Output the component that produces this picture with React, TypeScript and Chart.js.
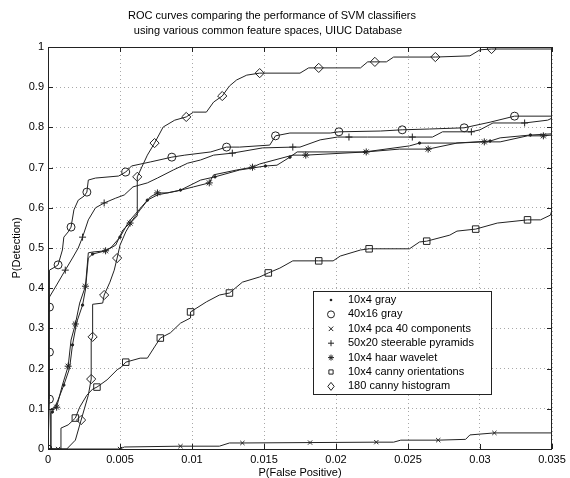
import React, { useEffect, useRef } from 'react';
import { Chart, registerables } from 'chart.js';

Chart.register(...registerables);

const FONT = '"Liberation Sans", Arial, Helvetica, sans-serif';

const titleLines = [
  'ROC curves comparing the performance of SVM classifiers',
  'using various common feature spaces, UIUC Database',
];
const xAxisTitle = 'P(False Positive)';
const yAxisTitle = 'P(Detection)';

const xTicks = [0, 0.005, 0.01, 0.015, 0.02, 0.025, 0.03, 0.035];
const xTickLabels = ['0', '0.005', '0.01', '0.015', '0.02', '0.025', '0.03', '0.035'];
const yTicks = [0, 0.1, 0.2, 0.3, 0.4, 0.5, 0.6, 0.7, 0.8, 0.9, 1];
const yTickLabels = ['0', '0.1', '0.2', '0.3', '0.4', '0.5', '0.6', '0.7', '0.8', '0.9', '1'];

const seriesNames = [
  '10x4 gray',
  '40x16 gray',
  '10x4 pca 40 components',
  '50x20 steerable pyramids',
  '10x4 haar wavelet',
  '10x4 canny orientations',
  '180 canny histogram',
];

type P = [number, number];

// 10x4 gray (dots)
const gray10x4: P[] = [
  [0, 0], [0.0002, 0], [0.0002, 0.09], [0.0003, 0.092], [0.0007, 0.122], [0.0011, 0.159],
  [0.0015, 0.201], [0.0017, 0.259], [0.002, 0.316], [0.0024, 0.358], [0.0026, 0.396],
  [0.0028, 0.475], [0.0031, 0.485], [0.004, 0.493], [0.0044, 0.502], [0.005, 0.527],
  [0.0056, 0.565], [0.0062, 0.59], [0.0069, 0.619], [0.0076, 0.632], [0.0092, 0.644],
  [0.0106, 0.669], [0.0116, 0.677], [0.0133, 0.694], [0.0151, 0.704], [0.0159, 0.706],
  [0.0168, 0.726], [0.0173, 0.739], [0.022, 0.739], [0.0251, 0.754], [0.0258, 0.761],
  [0.0283, 0.761], [0.0307, 0.766], [0.0314, 0.774], [0.0335, 0.781], [0.035, 0.784],
];
const gray10x4Marks = [3, 5, 7, 9, 12, 15, 18, 20, 22, 24, 26, 28, 30, 32, 34];

// 40x16 gray (circles)
const gray40x16: P[] = [
  [0, 0], [0.0001, 0.124], [0.0001, 0.241], [0.0001, 0.353], [0.0001, 0.445], [0.0005, 0.453],
  [0.0007, 0.458], [0.001, 0.495], [0.0011, 0.527], [0.0014, 0.54], [0.0016, 0.552],
  [0.0018, 0.595], [0.0021, 0.619], [0.0025, 0.629], [0.0027, 0.639], [0.0028, 0.669],
  [0.0033, 0.674], [0.0049, 0.679], [0.0054, 0.689], [0.0058, 0.704], [0.0071, 0.714],
  [0.0086, 0.726], [0.0095, 0.731], [0.0113, 0.739], [0.0124, 0.751], [0.0133, 0.751],
  [0.0154, 0.756], [0.0158, 0.779], [0.0168, 0.786], [0.0196, 0.786], [0.0202, 0.789],
  [0.0231, 0.791], [0.0246, 0.794], [0.0265, 0.796], [0.0289, 0.799], [0.0307, 0.813],
  [0.0324, 0.828], [0.035, 0.828],
];
const gray40x16Marks = [0, 1, 2, 3, 6, 10, 14, 18, 21, 24, 27, 30, 32, 34, 36];

// 10x4 pca 40 components (x)
const pca: P[] = [
  [0, 0], [0.0007, 0], [0.005, 0], [0.0053, 0.005], [0.0092, 0.007], [0.0119, 0.007],
  [0.0126, 0.015], [0.0135, 0.015], [0.0182, 0.016], [0.0228, 0.017], [0.024, 0.017],
  [0.0245, 0.022], [0.0271, 0.022], [0.029, 0.024], [0.0293, 0.035], [0.031, 0.04], [0.035, 0.04],
];
const pcaMarks = [1, 2, 4, 7, 8, 9, 12, 15];

// 50x20 steerable pyramids (+)
const steerable: P[] = [
  [0, 0], [0, 0.31], [0.0001, 0.378], [0.0006, 0.408], [0.0012, 0.445], [0.0017, 0.475],
  [0.0021, 0.5], [0.0024, 0.527], [0.0028, 0.57], [0.0033, 0.6], [0.0039, 0.612],
  [0.0047, 0.624], [0.0053, 0.632], [0.0059, 0.652], [0.0069, 0.662], [0.0076, 0.674],
  [0.0087, 0.694], [0.0097, 0.711], [0.0106, 0.719], [0.0115, 0.731], [0.0128, 0.736],
  [0.0149, 0.749], [0.017, 0.751], [0.0175, 0.751], [0.0189, 0.769], [0.0201, 0.776],
  [0.0209, 0.776], [0.0222, 0.776], [0.0253, 0.776], [0.0267, 0.776], [0.0274, 0.789],
  [0.0294, 0.789], [0.03, 0.794], [0.0309, 0.811], [0.0331, 0.811], [0.0347, 0.818], [0.035, 0.823],
];
const steerableMarks = [4, 7, 10, 20, 22, 26, 28, 31, 34];

// 10x4 haar wavelet (*)
const haar: P[] = [
  [0, 0], [0.0002, 0], [0.0002, 0.1], [0.0006, 0.104], [0.001, 0.159], [0.0014, 0.206],
  [0.0016, 0.271], [0.0019, 0.311], [0.0022, 0.363], [0.0026, 0.405], [0.0028, 0.488],
  [0.0031, 0.49], [0.004, 0.493], [0.0047, 0.507], [0.0052, 0.545], [0.0057, 0.562],
  [0.0064, 0.595], [0.0071, 0.627], [0.0076, 0.637], [0.0083, 0.637], [0.009, 0.642],
  [0.0101, 0.652], [0.0112, 0.662], [0.0115, 0.682], [0.0131, 0.694], [0.0142, 0.701],
  [0.0147, 0.709], [0.017, 0.731], [0.0179, 0.731], [0.0221, 0.739], [0.0244, 0.746],
  [0.0264, 0.746], [0.0284, 0.761], [0.0303, 0.764], [0.0314, 0.764], [0.0333, 0.779],
  [0.0344, 0.779], [0.035, 0.781],
];
const haarMarks = [3, 5, 7, 9, 12, 15, 18, 22, 25, 28, 29, 31, 33, 36];

// 10x4 canny orientations (squares)
const cannyOrient: P[] = [
  [0, 0], [0.0009, 0], [0.0009, 0.052], [0.0014, 0.06], [0.0017, 0.07], [0.0019, 0.077],
  [0.0022, 0.104], [0.0027, 0.134], [0.0031, 0.149], [0.0034, 0.154], [0.0041, 0.172],
  [0.0048, 0.197], [0.0051, 0.204], [0.0054, 0.216], [0.0064, 0.226], [0.0069, 0.226],
  [0.0074, 0.254], [0.0078, 0.276], [0.0085, 0.289], [0.0092, 0.313], [0.0099, 0.326],
  [0.0099, 0.341], [0.011, 0.366], [0.0119, 0.383], [0.0126, 0.388], [0.0135, 0.415],
  [0.0147, 0.428], [0.0153, 0.438], [0.0161, 0.45], [0.017, 0.468], [0.0188, 0.468],
  [0.0198, 0.468], [0.0203, 0.48], [0.0217, 0.495], [0.0223, 0.498], [0.0251, 0.498],
  [0.0258, 0.515], [0.0263, 0.517], [0.0279, 0.532], [0.0284, 0.542], [0.0297, 0.547],
  [0.0312, 0.562], [0.0333, 0.57], [0.0342, 0.57], [0.0349, 0.582], [0.035, 0.595],
];
const cannyOrientMarks = [5, 9, 13, 17, 21, 24, 27, 30, 34, 37, 40, 42];

// 180 canny histogram (diamonds)
const cannyHist: P[] = [
  [0, 0], [0.0013, 0], [0.0019, 0.022], [0.0023, 0.072], [0.0028, 0.134], [0.003, 0.174],
  [0.003, 0.27], [0.0031, 0.279], [0.0031, 0.36], [0.0038, 0.363], [0.0039, 0.383],
  [0.0043, 0.415], [0.0046, 0.445], [0.0048, 0.475], [0.005, 0.507], [0.0054, 0.54],
  [0.0058, 0.565], [0.0062, 0.58], [0.0062, 0.677], [0.0069, 0.731], [0.0074, 0.761],
  [0.008, 0.801], [0.0088, 0.818], [0.0096, 0.826], [0.0101, 0.838], [0.011, 0.838],
  [0.0115, 0.863], [0.0121, 0.878], [0.0126, 0.903], [0.0131, 0.918], [0.0138, 0.93],
  [0.0147, 0.935], [0.0175, 0.935], [0.0181, 0.948], [0.0188, 0.948], [0.0217, 0.948],
  [0.0222, 0.963], [0.0227, 0.963], [0.0235, 0.963], [0.024, 0.975], [0.0269, 0.975],
  [0.0293, 0.978], [0.03, 0.993], [0.0308, 0.995], [0.035, 0.995],
];
const cannyHistMarks = [3, 5, 7, 10, 13, 18, 20, 23, 27, 31, 34, 37, 40, 43];

const seriesData: P[][] = [gray10x4, gray40x16, pca, steerable, haar, cannyOrient, cannyHist];
const seriesMarks: number[][] = [gray10x4Marks, gray40x16Marks, pcaMarks, steerableMarks, haarMarks, cannyOrientMarks, cannyHistMarks];
const seriesStyles = ['dot', 'circle', 'crossRot', 'cross', 'star', 'rect', 'rectRot'];
const styleRadius: Record<string, number> = {
  dot: 1.2, circle: 4, crossRot: 3, cross: 3.5, star: 3.5, rect: 4.6, rectRot: 4.6,
};

const INK = '#222';
const TEXT = '#000';

function drawMark(ctx: CanvasRenderingContext2D, style: string, x: number, y: number, r: number) {
  ctx.beginPath();
  switch (style) {
    case 'dot':
      ctx.arc(x, y, 1.3, 0, Math.PI * 2);
      ctx.fillStyle = INK;
      ctx.fill();
      return;
    case 'circle':
      ctx.arc(x, y, r, 0, Math.PI * 2);
      break;
    case 'crossRot': {
      const d = r * 0.75;
      ctx.moveTo(x - d, y - d); ctx.lineTo(x + d, y + d);
      ctx.moveTo(x - d, y + d); ctx.lineTo(x + d, y - d);
      break;
    }
    case 'cross':
      ctx.moveTo(x - r, y); ctx.lineTo(x + r, y);
      ctx.moveTo(x, y - r); ctx.lineTo(x, y + r);
      break;
    case 'star': {
      const d = r * 0.7;
      ctx.moveTo(x - r, y); ctx.lineTo(x + r, y);
      ctx.moveTo(x, y - r); ctx.lineTo(x, y + r);
      ctx.moveTo(x - d, y - d); ctx.lineTo(x + d, y + d);
      ctx.moveTo(x - d, y + d); ctx.lineTo(x + d, y - d);
      break;
    }
    case 'rect': {
      const s = r * Math.SQRT1_2;
      ctx.rect(x - s, y - s, 2 * s, 2 * s);
      break;
    }
    case 'rectRot':
      ctx.moveTo(x, y - r); ctx.lineTo(x + r * 0.8, y);
      ctx.lineTo(x, y + r); ctx.lineTo(x - r * 0.8, y);
      ctx.closePath();
      break;
  }
  ctx.strokeStyle = INK;
  ctx.lineWidth = 1;
  ctx.stroke();
}

const framePlugin = {
  id: 'matlabFrame',
  afterDraw(chart: any) {
    const { ctx, chartArea } = chart;
    const { left, right, top, bottom } = chartArea;
    ctx.save();
    ctx.strokeStyle = INK;
    ctx.lineWidth = 1;
    ctx.strokeRect(left + 0.5, top + 0.5, right - left - 1, bottom - top);
    const xs = chart.scales.x;
    const ys = chart.scales.y;
    ctx.beginPath();
    xTicks.forEach((v) => {
      const px = Math.round(xs.getPixelForValue(v)) + 0.5;
      ctx.moveTo(px, bottom); ctx.lineTo(px, bottom - 5);
      ctx.moveTo(px, top); ctx.lineTo(px, top + 5);
    });
    yTicks.forEach((v) => {
      const py = Math.round(ys.getPixelForValue(v)) + 0.5;
      ctx.moveTo(left, py); ctx.lineTo(left + 5, py);
      ctx.moveTo(right, py); ctx.lineTo(right - 5, py);
    });
    ctx.stroke();

    ctx.fillStyle = TEXT;
    ctx.font = `11px ${FONT}`;
    ctx.textAlign = 'center';
    ctx.textBaseline = 'middle';
    ctx.fillText(titleLines[0], 272, 16);
    ctx.fillText(titleLines[1], 268, 31);

    const lx = 313, ly = 291, lw = 178, lh = 103;
    ctx.fillStyle = '#fff';
    ctx.fillRect(lx, ly, lw, lh);
    ctx.strokeStyle = INK;
    ctx.strokeRect(lx + 0.5, ly + 0.5, lw, lh);
    seriesNames.forEach((name, i) => {
      const cy = 300 + i * 14.4;
      drawMark(ctx, seriesStyles[i], 331, cy, i === 1 ? 3.5 : i === 6 ? 4 : 3);
      ctx.fillStyle = TEXT;
      ctx.textAlign = 'left';
      ctx.textBaseline = 'middle';
      ctx.font = `11px ${FONT}`;
      ctx.fillText(name, 348, cy);
    });
    ctx.restore();
  },
};

export default function App() {
  const ref = useRef<HTMLCanvasElement | null>(null);

  useEffect(() => {
    if (!ref.current) return;
    const datasets = seriesData.map((pts, i) => {
      const marks = seriesMarks[i];
      const style = seriesStyles[i];
      return {
        label: seriesNames[i],
        data: pts.map(([x, y]) => ({ x, y })),
        showLine: true,
        tension: 0,
        borderColor: INK,
        borderWidth: 1,
        pointStyle: style === 'dot' ? 'circle' : style,
        pointRadius: (c: any) => (marks.includes(c.dataIndex) ? styleRadius[style] : 0),
        pointHoverRadius: 0,
        pointBorderColor: INK,
        pointBorderWidth: 1,
        pointBackgroundColor: style === 'dot' ? INK : 'rgba(0,0,0,0)',
      };
    });

    const chart = new Chart(ref.current, {
      type: 'scatter',
      data: { datasets },
      options: {
        animation: false,
        responsive: false,
        events: [],
        layout: { padding: { left: 0, right: 18, top: 47, bottom: 0 } },
        plugins: {
          legend: { display: false },
          title: { display: false },
          tooltip: { enabled: false },
        },
        scales: {
          x: {
            type: 'linear',
            min: 0,
            max: 0.035,
            afterFit: (s: any) => { s.height = 29; },
            afterBuildTicks: (s: any) => { s.ticks = xTicks.map((v) => ({ value: v })); },
            ticks: {
              autoSkip: false,
              maxRotation: 0,
              padding: 4,
              color: TEXT,
              font: { family: FONT, size: 11 },
              callback: (_v: any, i: number) => xTickLabels[i],
            },
            grid: { color: '#a8a8a8', lineWidth: 1, drawTicks: false },
            border: { display: false, dash: [1, 3] },
            title: {
              display: true,
              text: xAxisTitle,
              color: TEXT,
              font: { family: FONT, size: 11, lineHeight: 1.2 },
              padding: { top: 0, bottom: -2 },
            },
          },
          y: {
            type: 'linear',
            min: 0,
            max: 1,
            afterFit: (s: any) => { s.width = 48; },
            afterBuildTicks: (s: any) => { s.ticks = yTicks.map((v) => ({ value: v })); },
            ticks: {
              autoSkip: false,
              padding: 4,
              color: TEXT,
              font: { family: FONT, size: 11 },
              callback: (_v: any, i: number) => yTickLabels[i],
            },
            grid: { color: '#a8a8a8', lineWidth: 1, drawTicks: false },
            border: { display: false, dash: [1, 3] },
            title: {
              display: true,
              text: yAxisTitle,
              color: TEXT,
              font: { family: FONT, size: 11, lineHeight: 1.2 },
              padding: { top: 10, bottom: 0 },
            },
          },
        },
      },
      plugins: [framePlugin],
    } as any);

    return () => chart.destroy();
  }, []);

  return (
    <div style={{ position: 'fixed', left: 0, top: 0, width: 570, height: 478, background: '#fff' }}>
      <canvas ref={ref} width={570} height={478} style={{ width: 570, height: 478, display: 'block' }} />
    </div>
  );
}
